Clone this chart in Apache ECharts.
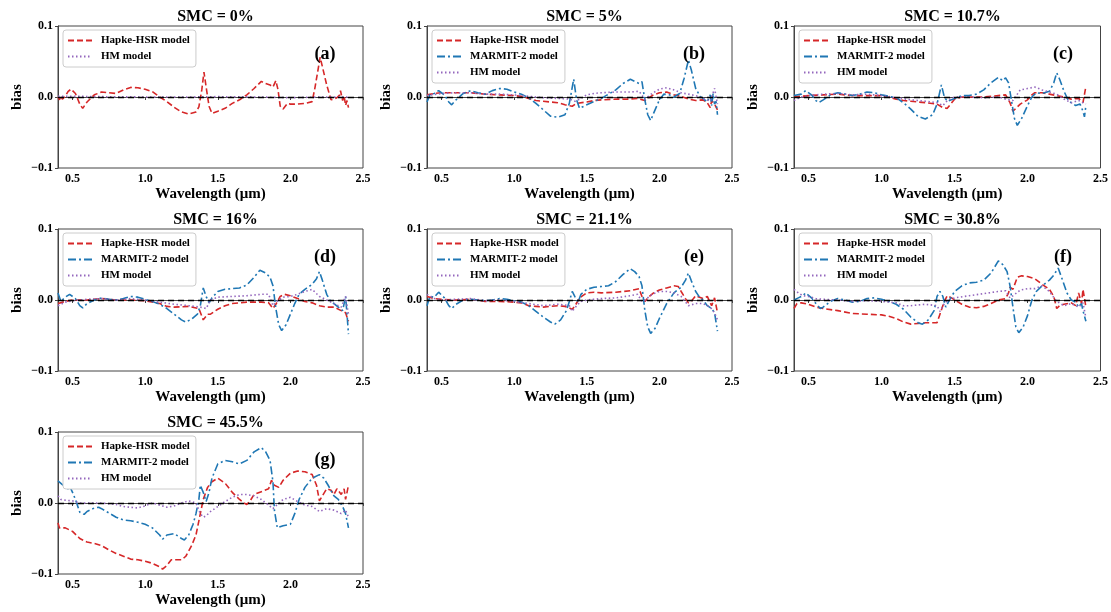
<!DOCTYPE html>
<html><head><meta charset="utf-8">
<script src="https://cdn.jsdelivr.net/npm/echarts@6/dist/echarts.min.js"></script>
<style>html,body{margin:0;padding:0;background:#fff}#c{width:1111px;height:612px}</style>
</head><body><div id="c"></div>
<script>
const smcTitles = ['SMC = 0%','SMC = 5%','SMC = 10.7%','SMC = 16%','SMC = 21.1%','SMC = 30.8%','SMC = 45.5%'];
const panelLabels = ['(a)','(b)','(c)','(d)','(e)','(f)','(g)'];
const wavelengthTicks = [0.5,1.0,1.5,2.0,2.5];
const biasTicks = [-0.1,0.0,0.1];
const modelNames = ['Hapke-HSR model','MARMIT-2 model','HM model'];

// (a) SMC = 0%
const hapkeA = [[0.40,0.000],[0.41,-0.004],[0.42,0.002],[0.43,-0.003],[0.45,0.001],[0.47,0.008],[0.49,0.011],[0.52,0.005],[0.55,-0.010],[0.57,-0.016],[0.60,-0.007],[0.65,0.003],[0.70,0.007],[0.75,0.006],[0.80,0.005],[0.85,0.010],[0.90,0.0135],[0.95,0.013],[1.00,0.011],[1.05,0.0075],[1.10,0.000],[1.15,-0.0065],[1.20,-0.0145],[1.25,-0.021],[1.30,-0.024],[1.35,-0.021],[1.37,-0.014],[1.39,0.010],[1.405,0.035],[1.42,0.014],[1.44,-0.013],[1.46,-0.023],[1.50,-0.020],[1.55,-0.016],[1.60,-0.009],[1.65,-0.004],[1.70,0.003],[1.75,0.012],[1.80,0.022],[1.83,0.019],[1.86,0.017],[1.88,0.014],[1.90,0.023],[1.915,0.010],[1.93,-0.013],[1.95,-0.017],[1.98,-0.009],[2.00,-0.010],[2.05,-0.010],[2.10,-0.009],[2.15,-0.0065],[2.17,0.014],[2.19,0.038],[2.205,0.056],[2.22,0.043],[2.25,0.017],[2.28,-0.004],[2.30,-0.003],[2.32,-0.001],[2.34,0.003],[2.345,0.009],[2.36,-0.005],[2.37,0.002],[2.38,-0.012],[2.39,-0.005],[2.40,-0.015]];
const hmA = [[0.40,0.001],[0.50,0.001],[0.70,0.0005],[1.00,0.000],[1.30,0.000],[1.50,0.0005],[1.80,0.000],[2.00,-0.001],[2.20,0.000],[2.40,0.000]];

// (b) SMC = 5%
const hapkeB = [[0.40,0.003],[0.45,0.005],[0.50,0.006],[0.60,0.006],[0.70,0.006],[0.80,0.004],[0.90,0.003],[1.00,0.002],[1.05,0.001],[1.10,-0.002],[1.15,-0.005],[1.20,-0.006],[1.25,-0.007],[1.30,-0.008],[1.35,-0.011],[1.40,-0.013],[1.43,-0.009],[1.50,-0.007],[1.55,-0.005],[1.60,-0.004],[1.70,-0.003],[1.80,-0.003],[1.85,-0.002],[1.90,-0.005],[1.95,0.002],[2.00,0.006],[2.05,0.007],[2.10,0.003],[2.15,0.001],[2.20,-0.003],[2.25,-0.005],[2.30,-0.004],[2.33,-0.008],[2.35,-0.015],[2.36,-0.005],[2.38,-0.010],[2.40,-0.018]];
const marmitB = [[0.40,-0.007],[0.42,0.003],[0.45,0.005],[0.48,0.009],[0.52,0.003],[0.55,-0.007],[0.57,-0.011],[0.60,-0.004],[0.65,0.005],[0.70,0.009],[0.75,0.006],[0.80,0.004],[0.85,0.009],[0.90,0.012],[0.95,0.011],[1.00,0.007],[1.05,0.004],[1.10,-0.001],[1.15,-0.009],[1.20,-0.018],[1.25,-0.027],[1.30,-0.0285],[1.35,-0.025],[1.38,-0.009],[1.41,0.025],[1.43,-0.004],[1.45,-0.016],[1.50,-0.011],[1.55,-0.0065],[1.60,-0.002],[1.65,0.004],[1.70,0.010],[1.75,0.019],[1.80,0.025],[1.83,0.022],[1.86,0.019],[1.88,0.0215],[1.90,-0.004],[1.92,-0.025],[1.94,-0.033],[1.96,-0.023],[2.00,-0.004],[2.03,0.004],[2.07,0.003],[2.10,0.000],[2.14,0.005],[2.17,0.026],[2.20,0.052],[2.22,0.038],[2.25,0.012],[2.28,0.001],[2.30,-0.002],[2.33,-0.007],[2.35,0.003],[2.36,-0.012],[2.37,0.005],[2.38,-0.010],[2.39,-0.006],[2.40,-0.025]];
const hmB = [[0.40,0.002],[0.50,0.005],[0.60,0.006],[0.70,0.006],[0.80,0.004],[0.90,0.004],[1.00,0.003],[1.10,0.001],[1.20,-0.001],[1.30,-0.002],[1.38,-0.003],[1.42,-0.006],[1.46,-0.002],[1.50,0.003],[1.55,0.005],[1.60,0.006],[1.70,0.007],[1.80,0.007],[1.86,0.008],[1.90,-0.003],[1.95,0.005],[2.00,0.011],[2.05,0.013],[2.10,0.010],[2.15,0.006],[2.20,0.004],[2.25,0.002],[2.30,-0.002],[2.35,-0.006],[2.38,0.012],[2.40,-0.010]];

// (c) SMC = 10.7%
const hapkeC = [[0.40,0.000],[0.50,0.002],[0.60,0.003],[0.70,0.004],[0.80,0.002],[0.90,0.002],[1.00,0.002],[1.10,-0.003],[1.15,-0.005],[1.20,-0.006],[1.30,-0.008],[1.38,-0.010],[1.42,-0.015],[1.45,-0.016],[1.50,-0.003],[1.55,0.000],[1.60,0.000],[1.70,0.000],[1.80,0.002],[1.85,0.003],[1.88,-0.008],[1.90,-0.020],[1.95,-0.010],[2.00,-0.004],[2.03,0.003],[2.05,0.006],[2.10,0.006],[2.15,0.004],[2.20,0.002],[2.25,0.000],[2.30,-0.003],[2.35,-0.002],[2.38,-0.008],[2.40,0.015]];
const marmitC = [[0.40,0.002],[0.45,0.004],[0.48,0.009],[0.52,0.003],[0.55,-0.005],[0.57,-0.008],[0.60,-0.004],[0.65,0.003],[0.70,0.006],[0.75,0.004],[0.80,0.002],[0.85,0.004],[0.90,0.007],[0.95,0.006],[1.00,0.003],[1.05,0.001],[1.10,-0.001],[1.15,-0.008],[1.20,-0.017],[1.25,-0.0275],[1.30,-0.031],[1.35,-0.025],[1.38,-0.010],[1.41,0.017],[1.43,0.000],[1.45,-0.006],[1.50,-0.002],[1.55,0.002],[1.60,0.002],[1.65,0.004],[1.70,0.010],[1.75,0.020],[1.80,0.0275],[1.83,0.023],[1.85,0.027],[1.87,0.020],[1.89,-0.005],[1.91,-0.030],[1.93,-0.040],[1.96,-0.030],[2.00,-0.012],[2.03,0.000],[2.06,0.006],[2.10,0.005],[2.15,0.008],[2.18,0.020],[2.20,0.034],[2.22,0.025],[2.25,0.008],[2.28,-0.005],[2.30,-0.008],[2.33,-0.012],[2.36,-0.010],[2.38,-0.020],[2.39,-0.028],[2.40,-0.012]];
const hmC = [[0.40,-0.005],[0.45,0.000],[0.50,0.002],[0.60,0.004],[0.70,0.005],[0.80,0.003],[0.90,0.004],[1.00,0.002],[1.10,-0.001],[1.20,-0.004],[1.30,-0.006],[1.38,-0.008],[1.42,-0.012],[1.45,-0.005],[1.50,0.000],[1.60,0.000],[1.70,-0.001],[1.80,0.000],[1.85,-0.003],[1.90,-0.005],[1.95,0.010],[2.00,0.012],[2.05,0.014],[2.10,0.010],[2.15,0.007],[2.20,0.004],[2.25,-0.003],[2.30,-0.008],[2.35,-0.005],[2.40,-0.010]];

// (d) SMC = 16%
const hapkeD = [[0.40,-0.005],[0.45,-0.002],[0.50,0.000],[0.60,0.000],[0.70,0.002],[0.80,0.000],[0.90,0.000],[1.00,-0.001],[1.10,-0.005],[1.15,-0.009],[1.20,-0.010],[1.30,-0.009],[1.37,-0.012],[1.40,-0.028],[1.43,-0.020],[1.45,-0.020],[1.50,-0.013],[1.55,-0.008],[1.60,-0.005],[1.70,-0.003],[1.80,-0.003],[1.85,-0.004],[1.88,-0.012],[1.90,-0.006],[1.93,0.005],[1.96,0.008],[2.00,0.006],[2.05,0.002],[2.10,-0.002],[2.15,-0.004],[2.20,-0.008],[2.25,-0.010],[2.30,-0.010],[2.35,-0.015],[2.38,-0.018],[2.40,-0.030]];
const marmitD = [[0.40,0.010],[0.42,-0.002],[0.45,0.004],[0.48,0.008],[0.52,0.002],[0.55,-0.008],[0.57,-0.011],[0.60,-0.005],[0.65,0.000],[0.70,0.003],[0.75,0.001],[0.80,0.000],[0.85,0.002],[0.90,0.005],[0.95,0.004],[1.00,0.001],[1.05,-0.002],[1.10,-0.006],[1.15,-0.012],[1.20,-0.020],[1.25,-0.028],[1.28,-0.031],[1.32,-0.027],[1.36,-0.020],[1.38,-0.008],[1.40,0.017],[1.42,0.005],[1.44,-0.004],[1.46,0.003],[1.50,0.012],[1.55,0.015],[1.60,0.016],[1.65,0.017],[1.70,0.021],[1.75,0.032],[1.79,0.042],[1.83,0.038],[1.86,0.032],[1.88,0.020],[1.90,-0.012],[1.92,-0.035],[1.94,-0.043],[1.97,-0.035],[2.00,-0.020],[2.03,-0.005],[2.06,0.008],[2.10,0.015],[2.15,0.022],[2.18,0.030],[2.20,0.040],[2.22,0.028],[2.25,0.008],[2.28,-0.003],[2.30,-0.005],[2.33,-0.010],[2.36,-0.015],[2.38,0.005],[2.39,-0.020],[2.40,-0.048]];
const hmD = [[0.40,-0.008],[0.45,-0.003],[0.50,-0.001],[0.60,0.001],[0.70,0.002],[0.80,0.000],[0.90,0.002],[1.00,0.000],[1.10,-0.003],[1.20,-0.006],[1.30,-0.008],[1.38,-0.010],[1.42,-0.012],[1.45,0.000],[1.50,0.004],[1.60,0.005],[1.70,0.006],[1.80,0.008],[1.85,0.008],[1.88,-0.008],[1.90,-0.003],[1.95,0.004],[2.00,0.005],[2.05,0.008],[2.10,0.012],[2.15,0.015],[2.20,0.005],[2.25,0.000],[2.30,-0.005],[2.35,-0.010],[2.38,0.005],[2.40,-0.020]];

// (e) SMC = 21.1%
const hapkeE = [[0.40,0.005],[0.45,0.002],[0.50,0.001],[0.60,0.000],[0.70,0.001],[0.80,-0.002],[0.90,-0.002],[1.00,-0.003],[1.05,-0.004],[1.10,-0.008],[1.15,-0.009],[1.20,-0.010],[1.30,-0.008],[1.35,-0.009],[1.40,-0.013],[1.42,-0.008],[1.45,0.003],[1.50,0.010],[1.55,0.011],[1.60,0.010],[1.70,0.011],[1.80,0.013],[1.86,0.016],[1.88,0.005],[1.90,-0.002],[1.93,0.005],[1.96,0.010],[2.00,0.014],[2.05,0.017],[2.10,0.020],[2.13,0.019],[2.15,0.012],[2.18,0.002],[2.20,-0.004],[2.22,-0.002],[2.25,0.006],[2.30,0.002],[2.33,0.005],[2.36,-0.008],[2.38,0.003],[2.40,-0.018]];
const marmitE = [[0.40,-0.008],[0.42,0.005],[0.45,0.004],[0.48,0.011],[0.52,0.003],[0.55,-0.008],[0.57,-0.012],[0.60,-0.006],[0.65,0.000],[0.70,0.001],[0.75,0.000],[0.80,-0.001],[0.85,0.000],[0.90,0.002],[0.95,0.001],[1.00,-0.001],[1.05,-0.003],[1.10,-0.008],[1.15,-0.016],[1.20,-0.024],[1.25,-0.031],[1.28,-0.034],[1.32,-0.028],[1.36,-0.015],[1.38,-0.002],[1.40,0.012],[1.42,0.004],[1.44,-0.003],[1.46,0.008],[1.50,0.015],[1.55,0.018],[1.60,0.019],[1.65,0.020],[1.70,0.026],[1.75,0.036],[1.80,0.044],[1.83,0.040],[1.86,0.033],[1.88,0.020],[1.90,-0.015],[1.92,-0.038],[1.94,-0.047],[1.97,-0.040],[2.00,-0.026],[2.05,-0.005],[2.10,0.010],[2.15,0.018],[2.18,0.028],[2.20,0.038],[2.22,0.027],[2.25,0.012],[2.28,0.003],[2.30,0.000],[2.33,-0.008],[2.36,-0.012],[2.38,-0.018],[2.40,-0.044]];
const hmE = [[0.40,0.008],[0.45,0.002],[0.50,0.000],[0.60,0.001],[0.70,0.002],[0.80,-0.001],[0.90,0.000],[1.00,-0.002],[1.10,-0.005],[1.20,-0.008],[1.30,-0.006],[1.38,-0.008],[1.40,-0.016],[1.43,-0.008],[1.46,-0.002],[1.50,0.000],[1.60,0.002],[1.70,0.003],[1.80,0.006],[1.85,0.008],[1.88,-0.002],[1.90,0.000],[1.95,0.008],[2.00,0.012],[2.05,0.012],[2.10,0.010],[2.15,0.005],[2.20,-0.008],[2.25,-0.005],[2.30,-0.005],[2.35,-0.010],[2.38,-0.018],[2.40,-0.028]];

// (f) SMC = 30.8%
const hapkeF = [[0.40,-0.012],[0.42,-0.005],[0.45,-0.004],[0.50,-0.006],[0.55,-0.010],[0.60,-0.012],[0.70,-0.015],[0.80,-0.019],[0.90,-0.020],[1.00,-0.021],[1.05,-0.023],[1.10,-0.026],[1.15,-0.031],[1.20,-0.034],[1.25,-0.033],[1.30,-0.032],[1.38,-0.032],[1.40,-0.020],[1.43,-0.002],[1.45,0.006],[1.48,0.003],[1.50,0.000],[1.55,-0.006],[1.60,-0.010],[1.65,-0.011],[1.70,-0.009],[1.75,-0.005],[1.80,0.000],[1.85,0.002],[1.87,0.010],[1.88,0.018],[1.90,0.015],[1.93,0.032],[1.96,0.034],[2.00,0.033],[2.05,0.030],[2.10,0.022],[2.15,0.015],[2.18,0.005],[2.20,-0.012],[2.22,-0.008],[2.25,-0.006],[2.30,-0.004],[2.33,-0.008],[2.35,0.010],[2.37,-0.005],[2.38,0.015],[2.40,-0.010]];
const marmitF = [[0.40,0.000],[0.43,0.003],[0.46,0.006],[0.48,0.010],[0.52,0.003],[0.55,-0.005],[0.58,-0.012],[0.60,-0.010],[0.65,-0.002],[0.70,0.002],[0.75,0.000],[0.80,-0.003],[0.85,-0.002],[0.90,0.002],[0.95,0.003],[1.00,0.001],[1.05,-0.002],[1.10,-0.006],[1.15,-0.013],[1.20,-0.024],[1.25,-0.032],[1.28,-0.034],[1.32,-0.028],[1.36,-0.015],[1.38,0.005],[1.40,0.012],[1.42,0.005],[1.44,-0.010],[1.46,-0.002],[1.50,0.012],[1.55,0.020],[1.60,0.024],[1.65,0.025],[1.70,0.028],[1.75,0.038],[1.80,0.055],[1.83,0.050],[1.86,0.040],[1.88,0.020],[1.90,-0.010],[1.92,-0.038],[1.94,-0.046],[1.97,-0.038],[2.00,-0.022],[2.03,0.000],[2.06,0.012],[2.10,0.020],[2.15,0.028],[2.18,0.035],[2.21,0.045],[2.24,0.028],[2.27,0.010],[2.30,0.000],[2.33,-0.003],[2.35,-0.010],[2.37,-0.005],[2.38,-0.015],[2.40,-0.030]];
const hmF = [[0.40,0.015],[0.43,0.010],[0.46,0.006],[0.50,0.005],[0.55,0.002],[0.60,0.001],[0.70,0.000],[0.80,-0.002],[0.90,-0.001],[1.00,-0.002],[1.10,-0.004],[1.15,-0.008],[1.20,-0.008],[1.30,-0.006],[1.38,-0.008],[1.40,-0.016],[1.43,-0.005],[1.46,0.000],[1.50,0.003],[1.60,0.006],[1.70,0.009],[1.80,0.012],[1.85,0.013],[1.88,0.003],[1.90,0.006],[1.95,0.014],[2.00,0.016],[2.05,0.016],[2.10,0.020],[2.15,0.012],[2.20,-0.002],[2.25,-0.008],[2.30,-0.005],[2.35,-0.010],[2.38,-0.004],[2.40,-0.025]];

// (g) SMC = 45.5%
const hapkeG = [[0.40,-0.028],[0.41,-0.035],[0.45,-0.035],[0.50,-0.040],[0.55,-0.050],[0.60,-0.055],[0.65,-0.057],[0.70,-0.060],[0.75,-0.066],[0.80,-0.071],[0.85,-0.075],[0.90,-0.079],[0.95,-0.080],[1.00,-0.082],[1.05,-0.085],[1.10,-0.090],[1.12,-0.093],[1.15,-0.088],[1.18,-0.080],[1.20,-0.080],[1.25,-0.080],[1.28,-0.075],[1.32,-0.060],[1.35,-0.045],[1.38,-0.015],[1.40,0.005],[1.43,0.022],[1.46,0.030],[1.50,0.035],[1.55,0.028],[1.60,0.015],[1.65,0.005],[1.68,0.000],[1.70,-0.002],[1.72,0.002],[1.75,0.012],[1.80,0.016],[1.85,0.020],[1.87,0.032],[1.89,0.025],[1.92,0.022],[1.95,0.032],[2.00,0.042],[2.05,0.045],[2.10,0.044],[2.15,0.040],[2.18,0.025],[2.20,0.003],[2.22,0.010],[2.25,0.020],[2.28,0.018],[2.30,0.012],[2.32,0.020],[2.35,0.012],[2.37,0.020],[2.38,0.005],[2.40,0.025]];
const marmitG = [[0.40,0.031],[0.43,0.026],[0.45,0.022],[0.47,0.020],[0.48,0.024],[0.50,0.015],[0.52,0.005],[0.55,-0.013],[0.58,-0.016],[0.60,-0.012],[0.65,-0.007],[0.68,-0.006],[0.70,-0.008],[0.75,-0.014],[0.80,-0.020],[0.85,-0.024],[0.90,-0.025],[0.95,-0.027],[1.00,-0.030],[1.05,-0.035],[1.10,-0.045],[1.12,-0.051],[1.15,-0.045],[1.20,-0.043],[1.25,-0.050],[1.27,-0.052],[1.30,-0.045],[1.33,-0.030],[1.35,-0.015],[1.37,0.005],[1.38,0.025],[1.40,0.015],[1.42,0.002],[1.44,0.015],[1.46,0.035],[1.50,0.055],[1.55,0.060],[1.60,0.058],[1.65,0.055],[1.70,0.060],[1.75,0.072],[1.80,0.078],[1.83,0.072],[1.86,0.060],[1.88,0.030],[1.89,-0.010],[1.91,-0.035],[1.95,-0.032],[2.00,-0.030],[2.03,-0.015],[2.06,0.005],[2.10,0.022],[2.15,0.035],[2.20,0.040],[2.23,0.035],[2.26,0.025],[2.30,0.010],[2.33,0.005],[2.36,-0.005],[2.38,-0.015],[2.40,-0.035]];
const hmG = [[0.40,0.010],[0.42,0.005],[0.45,0.004],[0.50,0.003],[0.55,0.000],[0.60,0.000],[0.70,0.000],[0.80,-0.002],[0.85,-0.005],[0.90,-0.006],[0.95,-0.007],[1.00,-0.004],[1.05,0.000],[1.10,-0.003],[1.15,-0.006],[1.20,-0.004],[1.25,0.000],[1.30,0.003],[1.35,0.000],[1.38,-0.015],[1.40,-0.020],[1.42,-0.018],[1.45,-0.012],[1.50,-0.005],[1.55,0.002],[1.60,0.008],[1.65,0.012],[1.70,0.012],[1.75,0.010],[1.80,0.005],[1.85,-0.003],[1.88,-0.008],[1.90,-0.004],[1.95,0.005],[2.00,0.008],[2.05,0.002],[2.10,-0.003],[2.15,-0.005],[2.20,-0.012],[2.25,-0.008],[2.30,-0.010],[2.35,-0.015],[2.38,-0.010],[2.40,-0.020]];

const panelData = [
  [hapkeA, null, hmA],
  [hapkeB, marmitB, hmB],
  [hapkeC, marmitC, hmC],
  [hapkeD, marmitD, hmD],
  [hapkeE, marmitE, hmE],
  [hapkeF, marmitF, hmF],
  [hapkeG, marmitG, hmG]
];

const FONT = "'Liberation Serif','Times New Roman',serif";
const colors = ['#d62728','#1f77b4','#9467bd'];
const dashes = [[6,3],[8,3,2,3],[1.5,2.5]];
const colLeft = [58, 427, 794];
const colWidth = [305, 305, 307];
const rowTop = [26, 229, 432];
const H = 142;

const grids=[], xAxes=[], yAxes=[], series=[], titles=[], legends=[];
panelData.forEach((pd, i) => {
  const r = Math.floor(i/3), c = i%3;
  const left = colLeft[c], top = rowTop[r], w = colWidth[c];
  grids.push({left:left, top:top, width:w, height:H, show:true, borderColor:'#444', borderWidth:1, backgroundColor:'transparent'});
  xAxes.push({type:'value', gridIndex:i, min:0.4, max:2.5,
    name:'Wavelength (μm)', nameLocation:'middle', nameGap:19,
    nameTextStyle:{fontFamily:FONT, fontWeight:'bold', fontSize:15, color:'#000'},
    axisLine:{show:true, lineStyle:{color:'#444'}},
    axisTick:{show:true, length:3, customValues:wavelengthTicks, lineStyle:{color:'#444'}},
    axisLabel:{customValues:wavelengthTicks, margin:5, fontFamily:FONT, fontWeight:'bold', fontSize:12, color:'#000', formatter:v=>v.toFixed(1)},
    splitLine:{show:false}});
  yAxes.push({type:'value', gridIndex:i, min:-0.1, max:0.1, interval:0.1,
    name:'bias', nameLocation:'middle', nameGap:33, nameRotate:90,
    nameTextStyle:{fontFamily:FONT, fontWeight:'bold', fontSize:15, color:'#000'},
    axisLine:{show:true, lineStyle:{color:'#444'}},
    axisTick:{show:true, length:3, lineStyle:{color:'#444'}},
    axisLabel:{margin:5, fontFamily:FONT, fontWeight:'bold', fontSize:12, color:'#000',
      formatter:v=>(v<-1e-9?'\u22120.1':(v>1e-9?'0.1':'0.0'))},
    splitLine:{show:false}});
  const names=[];
  pd.forEach((d, k) => {
    if(!d) return;
    names.push(modelNames[k]);
    series.push({type:'line', name:modelNames[k], xAxisIndex:i, yAxisIndex:i, data:d,
      symbol:'none', showSymbol:false, smooth:false, animation:false,
      lineStyle:{color:colors[k], width:1.6, type:dashes[k]}, itemStyle:{color:colors[k]}});
  });
  series.push({type:'line', name:'zero', xAxisIndex:i, yAxisIndex:i, data:[], symbol:'none', animation:false, z:5,
    markLine:{silent:true, symbol:['none','none'], label:{show:false}, animation:false,
      lineStyle:{color:'#000', width:1.4, type:[6,4]}, data:[{yAxis:0}]}});
  titles.push({text:smcTitles[i], left:left + w/2, top:top-22, textAlign:'center',
    textStyle:{fontFamily:FONT, fontWeight:'bold', fontSize:16, color:'#000'}});
  titles.push({text:panelLabels[i], left:left + w - 43, top:top + 14, textAlign:'center',
    textStyle:{fontFamily:FONT, fontWeight:'bold', fontSize:18, color:'#000'}});
  legends.push({data:names, orient:'vertical', left:left+5, top:top+4, padding:[5,6,5,4],
    itemGap:5, itemWidth:24, itemHeight:11, backgroundColor:'#fff', borderColor:'#ccc', borderWidth:1, borderRadius:3,
    selectedMode:false,
    itemStyle:{color:'transparent', borderColor:'transparent', borderWidth:0, opacity:0},
    textStyle:{fontFamily:FONT, fontWeight:'bold', fontSize:11, color:'#000', padding:[0,0,0,4]}});
});

const chart = echarts.init(document.getElementById('c'), null, {renderer:'canvas'});
chart.setOption({animation:false, backgroundColor:'#fff', title:titles, legend:legends, grid:grids, xAxis:xAxes, yAxis:yAxes, series:series});
</script></body></html>
